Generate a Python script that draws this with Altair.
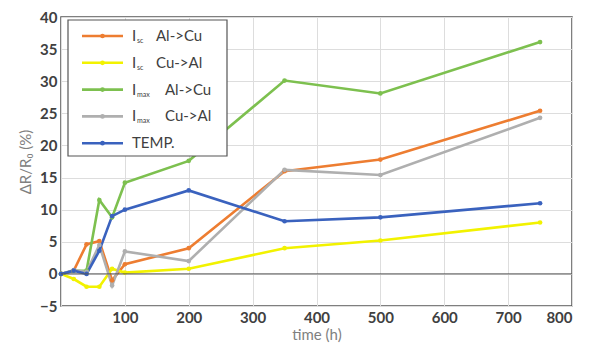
import altair as alt
import pandas as pd

time_h = [0, 20, 40, 60, 80, 100, 200, 350, 500, 750]
isc_al_cu = [0, 0.5, 4.6, 5.1, -1.0, 1.5, 4.0, 16.0, 17.8, 25.4]
isc_cu_al = [0, -0.8, -2.0, -2.0, 0.8, 0.2, 0.8, 4.0, 5.2, 8.0]
imax_al_cu = [0, 0.5, 0.5, 11.5, 8.8, 14.2, 17.6, 30.1, 28.1, 36.1]
imax_cu_al = [0, 0.6, 0.3, 4.5, -1.8, 3.5, 2.0, 16.2, 15.4, 24.3]
temp = [0, 0.5, 0.0, 3.6, 9.0, 10.0, 13.0, 8.2, 8.8, 11.0]

series_names = ["Isc Al->Cu", "Isc Cu->Al", "Imax Al->Cu", "Imax Cu->Al", "TEMP."]
series_values = [isc_al_cu, isc_cu_al, imax_al_cu, imax_cu_al, temp]
series_colors = ["#ED7D31", "#F2F200", "#7DC04F", "#AFAFAF", "#3A62BE"]
legend_main = ["I", "I", "I", "I", "TEMP."]
legend_sub = ["sc", "sc", "max", "max", ""]
legend_rest = ["Al->Cu", "Cu->Al", "Al->Cu", "Cu->Al", ""]
y_ticks = [-5, 0, 5, 10, 15, 20, 25, 30, 35, 40]
x_ticks = [0, 100, 200, 300, 400, 500, 600, 700, 800]

rows = []
for name, vals in zip(series_names, series_values):
    for t, v in zip(time_h, vals):
        rows.append({"time": t, "value": v, "series": name})
df = pd.DataFrame(rows)

W, H = 511, 289
xs = alt.Scale(domain=[0, 800], nice=False)
ys = alt.Scale(domain=[-5, 40], nice=False)
color = alt.Color("series:N", scale=alt.Scale(domain=series_names, range=series_colors), legend=None)
yaxis = alt.Axis(values=y_ticks, labelOverlap=False, tickCount=10)
xaxis = alt.Axis(values=x_ticks, labelOverlap=False,
                 labelExpr="datum.value == 0 ? '' : datum.label")

base = alt.Chart(df).encode(
    x=alt.X("time:Q", scale=xs, title="time (h)", axis=xaxis),
    y=alt.Y("value:Q", scale=ys, title="ΔR/R₀ (%)", axis=yaxis),
    color=color,
    order=alt.Order("time:Q"),
)
lines = base.mark_line(strokeWidth=2.6)
points = base.mark_circle(size=22, opacity=1)

zero = alt.Chart(pd.DataFrame({"v": [0]})).mark_rule(color="#555555", strokeWidth=1).encode(
    y=alt.Y("v:Q", scale=ys, title="ΔR/R₀ (%)", axis=yaxis))

layers = [lines, points, zero]

# legend
layers.append(alt.Chart(pd.DataFrame({"a": [0]})).mark_rect(
    fill="white", stroke="#555555", strokeWidth=1.2).encode(
    x=alt.value(7), x2=alt.value(166), y=alt.value(3), y2=alt.value(139)))
for i, name in enumerate(series_names):
    yy = 19 + 26.8 * i
    c = series_colors[i]
    one = alt.Chart(pd.DataFrame({"a": [0]}))
    layers.append(one.mark_rule(color=c, strokeWidth=2.6).encode(
        x=alt.value(21), x2=alt.value(62), y=alt.value(yy)))
    layers.append(one.mark_circle(color=c, size=22, opacity=1).encode(
        x=alt.value(41.5), y=alt.value(yy)))
    layers.append(one.mark_text(text=legend_main[i], align="left", baseline="middle",
                                font="Lato", fontSize=15, color="#404040").encode(
        x=alt.value(71), y=alt.value(yy)))
    if legend_sub[i]:
        layers.append(one.mark_text(text=legend_sub[i], align="left", baseline="middle",
                                    font="Lato", fontSize=7, color="#404040").encode(
            x=alt.value(76), y=alt.value(yy + 5)))
        layers.append(one.mark_text(text=legend_rest[i], align="left", baseline="middle",
                                    font="Lato", fontSize=15, color="#404040").encode(
            x=alt.value(95 if legend_sub[i] == "sc" else 104), y=alt.value(yy)))

chart = alt.layer(*layers).properties(
    width=W, height=H,
    autosize=alt.AutoSizeParams(type="none"),
    padding={"left": 53, "top": 9, "right": 9, "bottom": 40},
).configure_view(
    stroke="#555555", strokeWidth=1.5
).configure_axis(
    grid=True, gridColor="#DDDDDD", gridWidth=1,
    domain=False, ticks=False, labelOverlap=False,
    labelFont="Lato", labelFontSize=15, labelFontWeight="bold", labelColor="#404040",
    titleFont="Lato", titleFontSize=15, titleFontWeight="normal", titleColor="#808080",
    labelPadding=4,
).configure_axisY(titlePadding=6).configure_axisX(titlePadding=2)

chart.save("out.html", embed_options={"renderer": "svg", "actions": False})
